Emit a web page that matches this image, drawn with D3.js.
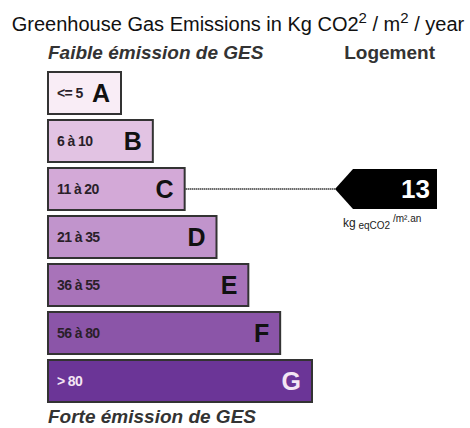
<!DOCTYPE html>
<html>
<head>
<meta charset="utf-8">
<title>GES</title>
<script src="https://cdn.jsdelivr.net/npm/d3@7"></script>
<style>
  body { margin: 0; background: #fff; }
  svg { display: block; font-family: "Liberation Sans", Arial, sans-serif; }
</style>
</head>
<body>
<div id="chart"></div>
<script>
// classes, range labels, fills
var classes = ["A", "B", "C", "D", "E", "F", "G"];
var ranges = ["<= 5", "6 à 10", "11 à 20", "21 à 35", "36 à 55", "56 à 80", "> 80"];
var thresholds = [5.5, 10.5, 20.5, 35.5, 55.5, 80.5];
var fills = ["#f9edf6", "#e2c3e3", "#d3a9d7", "#c194cc", "#a873b9", "#8b55a8", "#6b3597"];
var value = 13;

var width = 470, height = 428;

var svg = d3.select("#chart").append("svg")
  .attr("width", width)
  .attr("height", height);

var y = d3.scaleBand().domain(classes).range([72, 402]).paddingInner(0.125).paddingOuter(0);
var right = d3.scaleLinear().domain([0, classes.length - 1]).range([121, 312]);
var left = 48;
var toClass = d3.scaleThreshold().domain(thresholds).range(classes);

// title
var title = svg.append("text")
  .attr("x", 238)
  .attr("y", 31)
  .attr("text-anchor", "middle")
  .attr("font-size", 20)
  .attr("fill", "#111");
title.append("tspan").text("Greenhouse Gas Emissions in Kg CO2");
title.append("tspan").attr("font-size", 15).attr("dy", -8).text("2");
title.append("tspan").attr("dy", 8).text(" / m");
title.append("tspan").attr("font-size", 15).attr("dy", -8).text("2");
title.append("tspan").attr("dy", 8).text(" / year");

svg.append("text")
  .attr("x", left)
  .attr("y", 59)
  .attr("font-size", 19)
  .attr("font-weight", "bold")
  .attr("font-style", "italic")
  .attr("fill", "#333")
  .text("Faible émission de GES");

svg.append("text")
  .attr("x", 435)
  .attr("y", 59)
  .attr("text-anchor", "end")
  .attr("font-size", 19)
  .attr("font-weight", "bold")
  .attr("fill", "#333")
  .text("Logement");

svg.append("text")
  .attr("x", left)
  .attr("y", 423)
  .attr("font-size", 19)
  .attr("font-weight", "bold")
  .attr("font-style", "italic")
  .attr("fill", "#333")
  .text("Forte émission de GES");

// bars
var rows = svg.selectAll("g.row")
  .data(classes)
  .enter().append("g")
  .attr("class", "row");

rows.append("rect")
  .attr("x", left)
  .attr("y", function(d) { return y(d); })
  .attr("width", function(d, i) { return right(i) - left; })
  .attr("height", y.bandwidth())
  .attr("fill", function(d, i) { return fills[i]; })
  .attr("stroke", "#333")
  .attr("stroke-width", 2);

rows.append("text")
  .attr("x", left + 9)
  .attr("y", function(d) { return y(d) + y.bandwidth() / 2 + 5; })
  .attr("font-size", 14)
  .attr("font-weight", "bold")
  .attr("letter-spacing", -0.6)
  .attr("fill", function(d, i) { return i == 6 ? "#f4e6f4" : "#2a1f2a"; })
  .text(function(d, i) { return ranges[i]; });

rows.append("text")
  .attr("x", function(d, i) { return right(i) - 11; })
  .attr("y", function(d) { return y(d) + y.bandwidth() / 2 + 9; })
  .attr("text-anchor", "end")
  .attr("font-size", 25)
  .attr("font-weight", "bold")
  .attr("fill", function(d, i) { return i == 6 ? "#f4e6f4" : "#111"; })
  .text(function(d) { return d; });

// indicator
var cls = toClass(value);
var ci = classes.indexOf(cls);
var cy = y(cls) + y.bandwidth() / 2;
var tipX = 335, bodyX = 353, endX = 437, half = 20;

svg.append("line")
  .attr("x1", right(ci) + 1)
  .attr("x2", tipX)
  .attr("y1", cy)
  .attr("y2", cy)
  .attr("stroke", "#222")
  .attr("stroke-width", 2)
  .attr("stroke-dasharray", "1,1");

svg.append("path")
  .attr("d", d3.line()([[tipX, cy], [bodyX, cy - half], [endX, cy - half], [endX, cy + half], [bodyX, cy + half]]) + "Z")
  .attr("fill", "#000");

svg.append("text")
  .attr("x", 430)
  .attr("y", cy + 9)
  .attr("text-anchor", "end")
  .attr("font-size", 26)
  .attr("font-weight", "bold")
  .attr("fill", "#fff")
  .text(value);

var unit = svg.append("text")
  .attr("x", 343)
  .attr("y", cy + 38)
  .attr("font-size", 12)
  .attr("fill", "#222");
unit.append("tspan").text("kg");
unit.append("tspan").attr("font-size", 10).attr("dy", 2).text(" eqCO2");
unit.append("tspan").attr("font-size", 10).attr("dy", -7).text(" /m².an");
</script>
</body>
</html>
